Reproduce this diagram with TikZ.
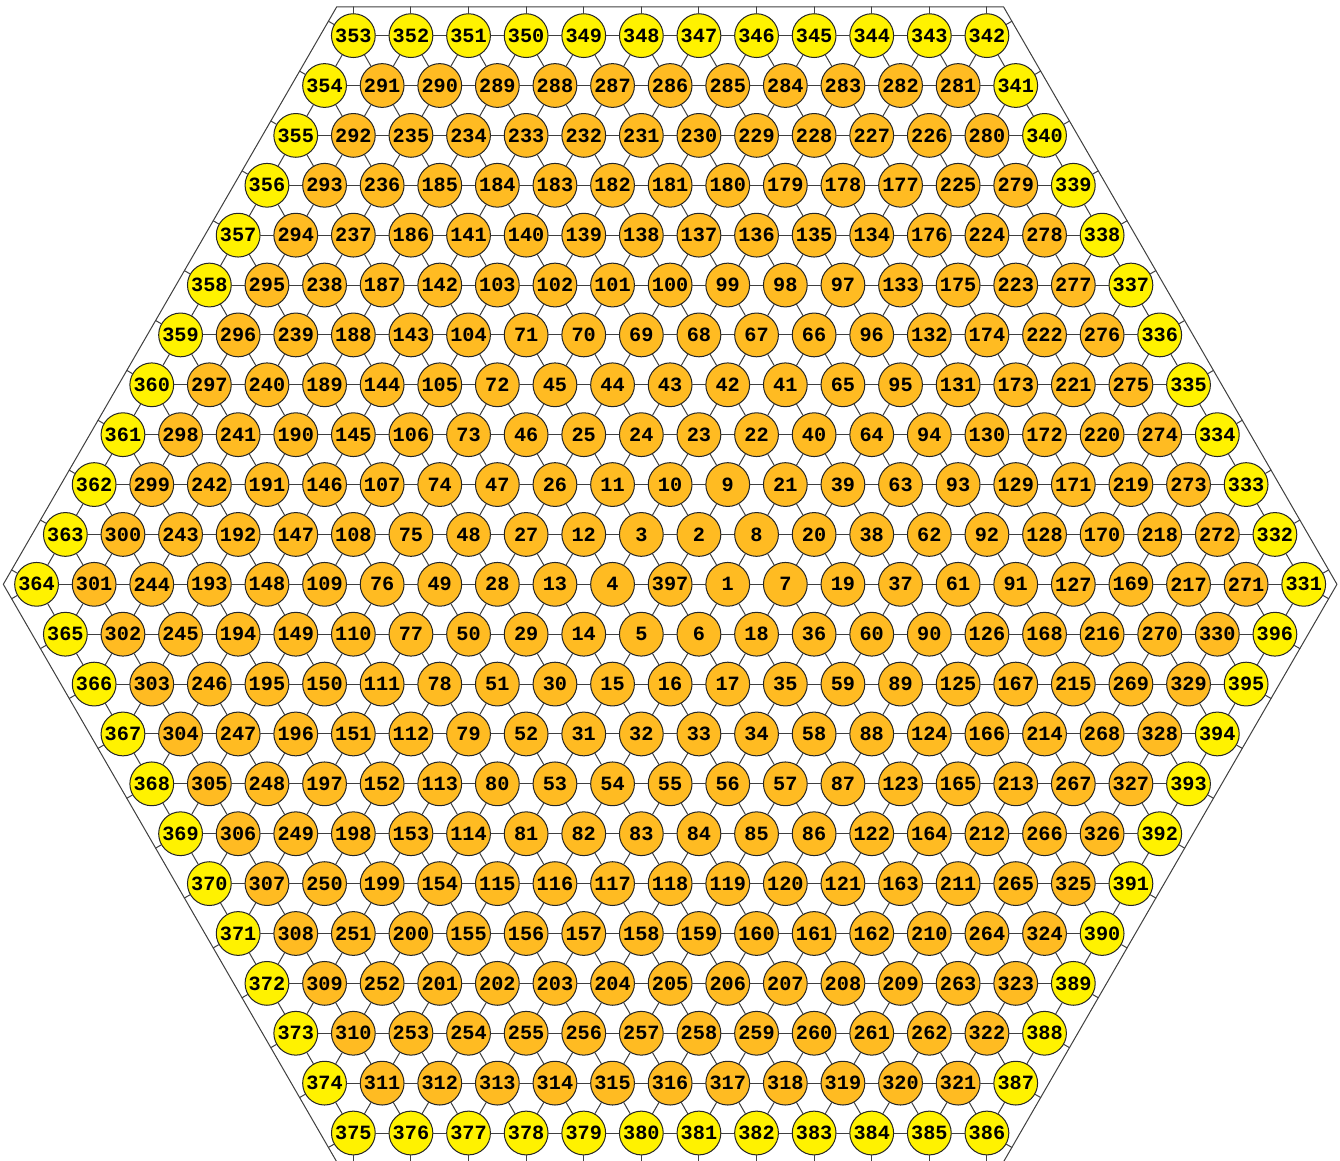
\documentclass[tikz,border=0pt]{standalone}
\usepackage{fontspec}
\setmonofont{Liberation Mono}
\definecolor{siteorange}{RGB}{255,187,34}
\begin{document}
\begin{tikzpicture}[line join=round, line cap=round,
  site/.style={circle, draw=black!85, line width=0.5pt, minimum size=0.76cm, inner sep=0pt,
    font=\ttfamily\bfseries\fontsize{10}{12}\selectfont},
  bond/.style={draw=black!75, line width=0.5pt}]
  \def\h{0.8660254}
  \def\R{11.57735}
  \useasboundingbox (-11.635,-10.012) rectangle (11.63,10.145);
  \draw[bond] (0:\R) -- (60:\R) -- (120:\R) -- (180:\R) -- (240:\R) -- (300:\R) -- cycle;
  \foreach \r/\lst in {
    0/{353,352,351,350,349,348,347,346,345,344,343,342},
    1/{354,291,290,289,288,287,286,285,284,283,282,281,341},
    2/{355,292,235,234,233,232,231,230,229,228,227,226,280,340},
    3/{356,293,236,185,184,183,182,181,180,179,178,177,225,279,339},
    4/{357,294,237,186,141,140,139,138,137,136,135,134,176,224,278,338},
    5/{358,295,238,187,142,103,102,101,100,99,98,97,133,175,223,277,337},
    6/{359,296,239,188,143,104,71,70,69,68,67,66,96,132,174,222,276,336},
    7/{360,297,240,189,144,105,72,45,44,43,42,41,65,95,131,173,221,275,335},
    8/{361,298,241,190,145,106,73,46,25,24,23,22,40,64,94,130,172,220,274,334},
    9/{362,299,242,191,146,107,74,47,26,11,10,9,21,39,63,93,129,171,219,273,333},
    10/{363,300,243,192,147,108,75,48,27,12,3,2,8,20,38,62,92,128,170,218,272,332},
    11/{364,301,244,193,148,109,76,49,28,13,4,397,1,7,19,37,61,91,127,169,217,271,331},
    12/{365,302,245,194,149,110,77,50,29,14,5,6,18,36,60,90,126,168,216,270,330,396},
    13/{366,303,246,195,150,111,78,51,30,15,16,17,35,59,89,125,167,215,269,329,395},
    14/{367,304,247,196,151,112,79,52,31,32,33,34,58,88,124,166,214,268,328,394},
    15/{368,305,248,197,152,113,80,53,54,55,56,57,87,123,165,213,267,327,393},
    16/{369,306,249,198,153,114,81,82,83,84,85,86,122,164,212,266,326,392},
    17/{370,307,250,199,154,115,116,117,118,119,120,121,163,211,265,325,391},
    18/{371,308,251,200,155,156,157,158,159,160,161,162,210,264,324,390},
    19/{372,309,252,201,202,203,204,205,206,207,208,209,263,323,389},
    20/{373,310,253,254,255,256,257,258,259,260,261,262,322,388},
    21/{374,311,312,313,314,315,316,317,318,319,320,321,387},
    22/{375,376,377,378,379,380,381,382,383,384,385,386}}{
    \pgfmathtruncatemacro\nsites{12+min(\r,22-\r)}
    \foreach \v [count=\c from 0] in \lst {
      \ifnum\v>330 \ifnum\v<397 \def\sitecol{yellow}\else\def\sitecol{siteorange}\fi
      \else\def\sitecol{siteorange}\fi
      \node[site, fill=\sitecol] (n-\r-\c) at ({\c-(\nsites-1)/2}, {(11-\r)*\h}) {\v};
    }
  }
  \foreach \r in {0,...,22}{
    \pgfmathtruncatemacro\nsites{12+min(\r,22-\r)}
    \pgfmathtruncatemacro\lastc{\nsites-1}
    \pgfmathtruncatemacro\rnext{\r+1}
    \foreach \c in {0,...,\lastc}{
      \pgfmathtruncatemacro\cnext{\c+1}
      \pgfmathtruncatemacro\cprev{\c-1}
      \ifnum\c<\lastc \draw[bond] (n-\r-\c) -- (n-\r-\cnext); \fi
      \ifnum\r<11
        \draw[bond] (n-\r-\c) -- (n-\rnext-\c) (n-\r-\c) -- (n-\rnext-\cnext);
      \else\ifnum\r<22
        \ifnum\c>0 \draw[bond] (n-\r-\c) -- (n-\rnext-\cprev); \fi
        \ifnum\c<\lastc \draw[bond] (n-\r-\c) -- (n-\rnext-\c); \fi
      \fi\fi
    }
    \ifnum\r<12
      \draw[bond] (n-\r-0) -- ++(150:0.5) (n-\r-\lastc) -- ++(30:0.5);
    \fi
    \ifnum\r>10
      \draw[bond] (n-\r-0) -- ++(210:0.5) (n-\r-\lastc) -- ++(330:0.5);
    \fi
  }
  \foreach \c in {0,...,11}{
    \draw[bond] (n-0-\c) -- ++(90:0.5) (n-22-\c) -- ++(270:0.5);
  }
\end{tikzpicture}
\end{document}
